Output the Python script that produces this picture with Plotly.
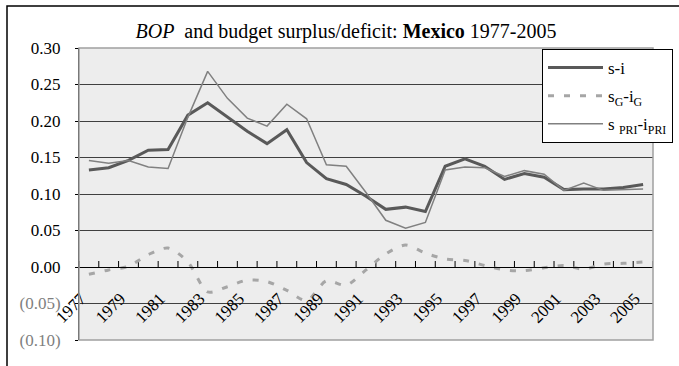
import plotly.graph_objects as go

years = list(range(1977, 2006))

s_minus_i = [0.133, 0.136, 0.146, 0.160, 0.161, 0.208, 0.225, 0.205, 0.186, 0.169,
             0.188, 0.143, 0.121, 0.113, 0.097, 0.079, 0.082, 0.076, 0.138, 0.148,
             0.138, 0.120, 0.128, 0.123, 0.106, 0.107, 0.107, 0.109, 0.113]

sg_minus_ig = [-0.010, -0.004, 0.001, 0.017, 0.026, 0.007, -0.034, -0.027, -0.018, -0.020,
               -0.032, -0.046, -0.019, -0.025, -0.004, 0.018, 0.030, 0.019, 0.011, 0.009,
               0.002, -0.004, -0.005, -0.001, 0.002, -0.003, 0.004, 0.005, 0.007]

spri_minus_ipri = [0.146, 0.142, 0.146, 0.137, 0.135, 0.205, 0.268, 0.231, 0.204, 0.193,
                   0.223, 0.203, 0.140, 0.138, 0.102, 0.064, 0.053, 0.061, 0.133, 0.137,
                   0.136, 0.124, 0.132, 0.127, 0.105, 0.115, 0.105, 0.106, 0.107]

x_tick_labels = [str(y) for y in range(1977, 2006, 2)]
y_tick_vals = [-0.10, -0.05, 0.00, 0.05, 0.10, 0.15, 0.20, 0.25, 0.30]
y_tick_text = ['<span style="color:#7f7f7f">(0.10)</span>',
               '<span style="color:#7f7f7f">(0.05)</span>',
               '0.00', '0.05', '0.10', '0.15', '0.20', '0.25', '0.30']

Y_MIN, Y_MAX = -0.10, 0.30
ZERO_FRAC = (0 - Y_MIN) / (Y_MAX - Y_MIN)

# category boundaries (where the category-axis tick marks sit)
x_boundaries = [y - 0.5 for y in years] + [years[-1] + 0.5]
TICK_LEN = 6 / 292 * (Y_MAX - Y_MIN)

tick_x, tick_y = [], []
for b in x_boundaries:
    tick_x += [b, b, None]
    tick_y += [0, TICK_LEN, None]

FONT = "'Liberation Serif', 'Times New Roman', 'DejaVu Serif', serif"

fig = go.Figure()
# category-axis tick marks on the zero line (pointing up, like the original)
fig.add_trace(go.Scatter(x=tick_x, y=tick_y, mode="lines",
                         line=dict(color="black", width=1),
                         connectgaps=False, showlegend=False, hoverinfo="skip"))
fig.add_trace(go.Scatter(x=years, y=s_minus_i, mode="lines", name="s-i",
                         legendgroup="a",
                         line=dict(color="#595959", width=3)))
fig.add_trace(go.Scatter(x=years, y=sg_minus_ig, mode="lines",
                         name="s<sub>G</sub>-i<sub>G</sub>", legendgroup="b",
                         line=dict(color="#a6a6a6", width=3, dash="6px,10px",
                                   shape="spline", smoothing=0.8)))
fig.add_trace(go.Scatter(x=years, y=spri_minus_ipri, mode="lines",
                         name="s <sub>PRI</sub>-i<sub>PRI</sub>", legendgroup="c",
                         line=dict(color="#808080", width=1.5)))

fig.update_layout(
    width=679, height=366,
    margin=dict(l=79, r=26, t=48, b=26, autoexpand=False),
    paper_bgcolor="white",
    plot_bgcolor="#ededed",
    font=dict(family=FONT, size=16, color="black"),
    title=dict(text="<i>BOP</i>  and budget surplus/deficit: <b>Mexico</b> 1977-2005",
               x=346/679, xanchor="center", xref="container",
               y=1 - 31/366, yanchor="middle", yref="container",
               font=dict(family=FONT, size=20, color="black")),
    showlegend=True,
    legend=dict(x=(542 - 79)/574, xanchor="left", y=(340 - 49)/292, yanchor="top",
                bgcolor="white", bordercolor="black", borderwidth=1,
                font=dict(family=FONT, size=17, color="black"),
                itemwidth=55, entrywidth=170, tracegroupgap=3),
    xaxis=dict(range=[1976.5, 2005.5], anchor="free", position=ZERO_FRAC,
               tickmode="array", tickvals=list(range(1977, 2006, 2)), ticktext=x_tick_labels,
               tickangle=-45, ticks="",
               showgrid=False, zeroline=False,
               showline=True, linecolor="black", linewidth=1,
               tickfont=dict(family=FONT, size=17, color="black"),
               ticklabelstandoff=14, ticklabelshift=-8,
               automargin=False, fixedrange=True),
    yaxis=dict(range=[Y_MIN, Y_MAX], tickmode="array", tickvals=y_tick_vals,
               ticktext=y_tick_text, ticks="outside", ticklen=3, tickcolor="black",
               showgrid=True, gridcolor="#404040", gridwidth=1,
               zeroline=True, zerolinecolor="black", zerolinewidth=1,
               showline=True, linecolor="black", linewidth=1,
               tickfont=dict(family=FONT, size=17, color="black"),
               ticklabelstandoff=11, automargin=False, fixedrange=True),
    shapes=[
        dict(type="rect", xref="paper", yref="paper", x0=0, y0=0, x1=1, y1=1,
             line=dict(color="#a0a0a0", width=1.5), layer="above"),
        dict(type="rect", xref="paper", yref="paper",
             x0=(7 - 79)/574, y0=(340 - 375)/292, x1=(690 - 79)/574, y1=(340 - 6)/292,
             line=dict(color="black", width=1.5), layer="above"),
    ],
)

fig.write_html("out.html")
